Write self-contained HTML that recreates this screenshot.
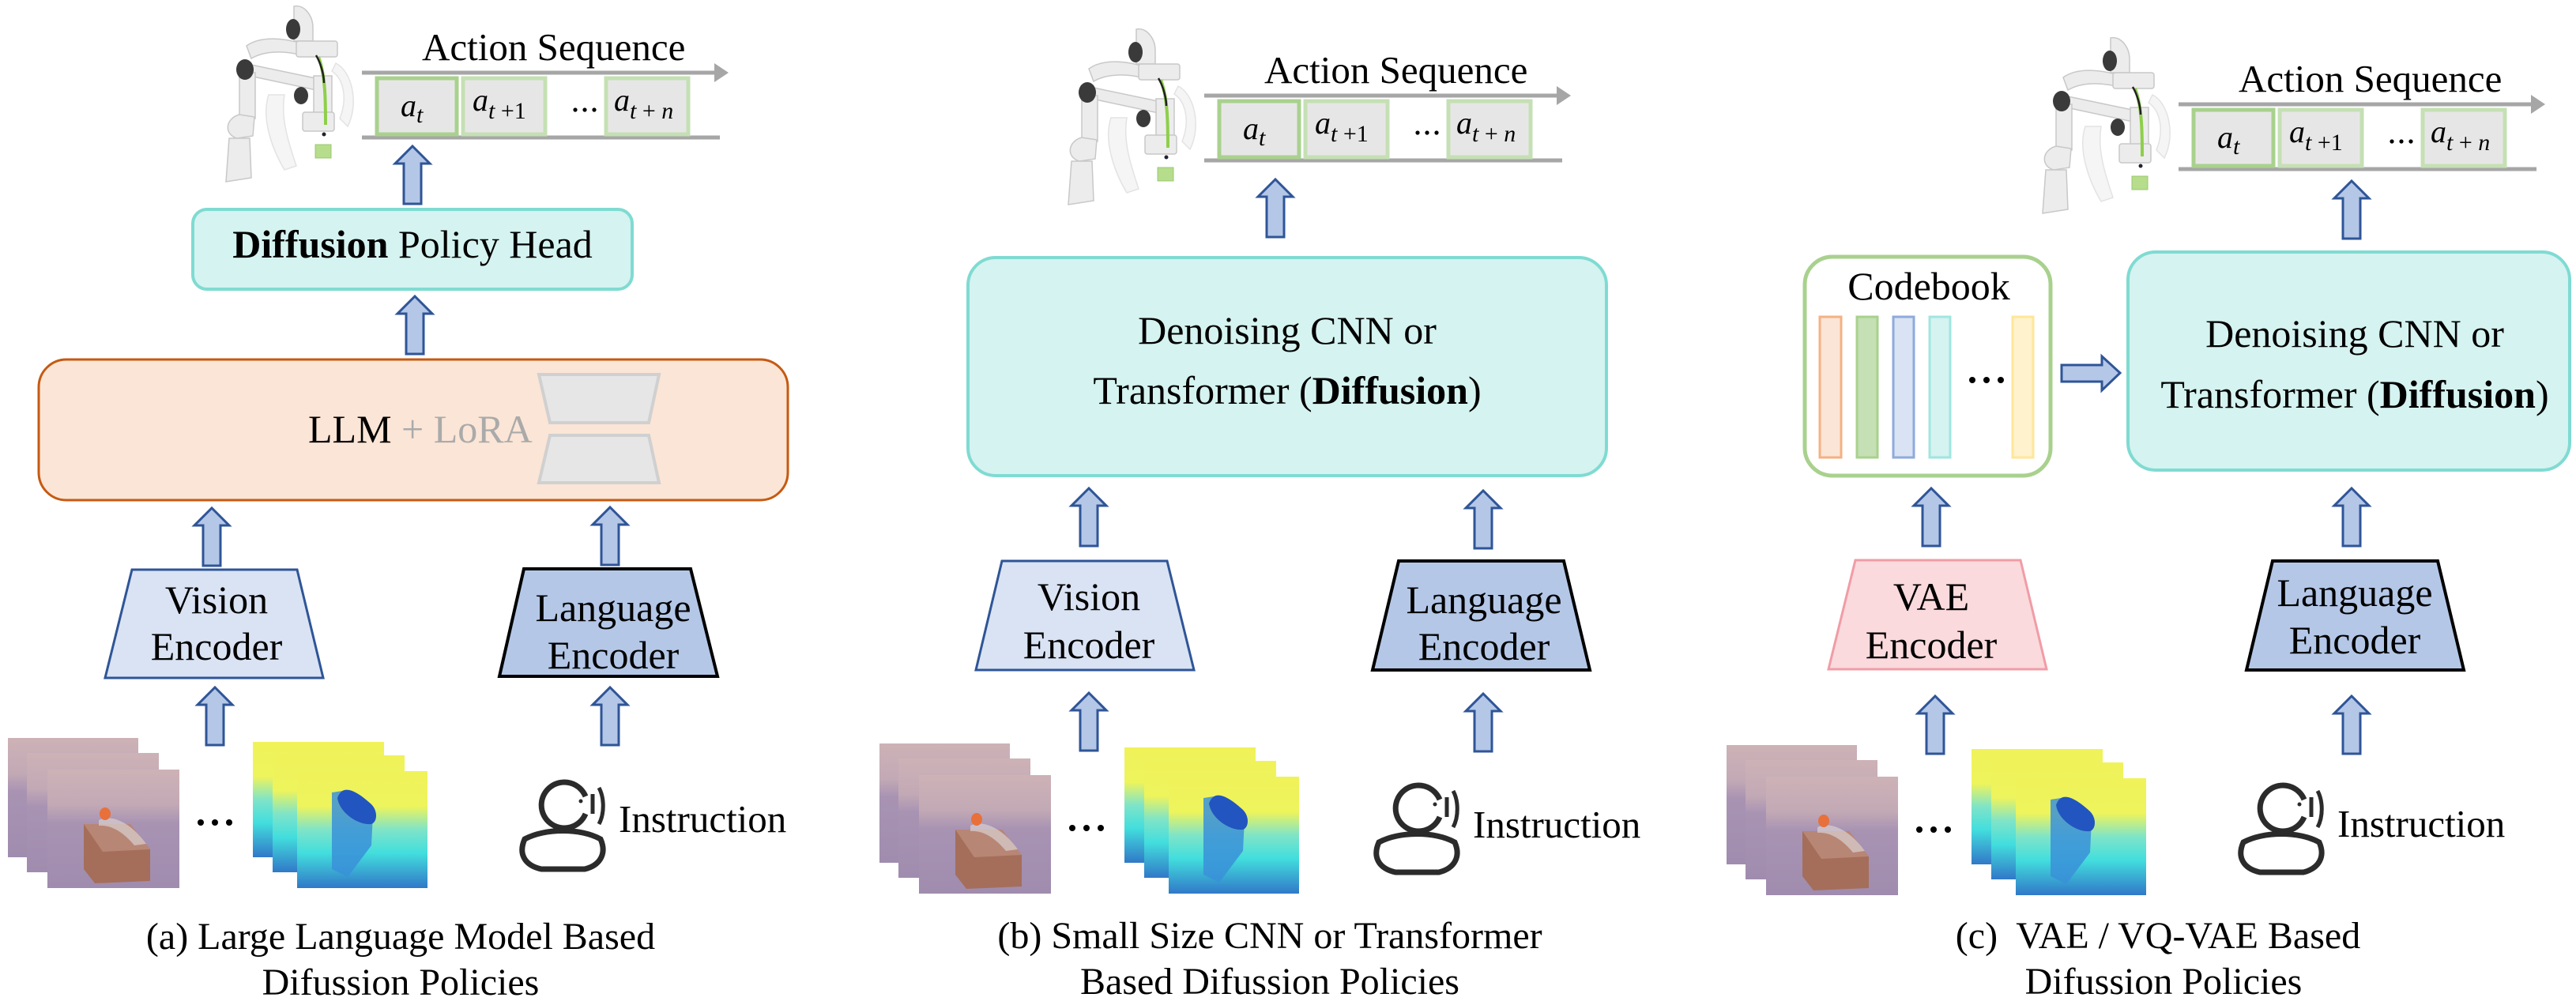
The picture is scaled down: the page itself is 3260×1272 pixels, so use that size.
<!DOCTYPE html>
<html><head><meta charset="utf-8"><style>
html,body{margin:0;padding:0;background:#fff;}
svg{display:block;}
text{font-family:"Liberation Serif",serif;}
</style></head><body>
<svg width="3260" height="1272" viewBox="0 0 3260 1272" xmlns="http://www.w3.org/2000/svg">
<defs>
<linearGradient id="rgbg" x1="0" y1="0" x2="0" y2="1">
<stop offset="0" stop-color="#cdb2b6"/><stop offset="0.3" stop-color="#c2a9b5"/><stop offset="0.45" stop-color="#a893b3"/><stop offset="1" stop-color="#a08cae"/></linearGradient>
<linearGradient id="depg" x1="0" y1="0" x2="0" y2="1">
<stop offset="0" stop-color="#f0f25a"/><stop offset="0.3" stop-color="#eef45c"/><stop offset="0.5" stop-color="#7fe4c8"/><stop offset="0.7" stop-color="#42dedd"/><stop offset="1" stop-color="#3178c8"/></linearGradient>
<g id="arrowU"><polygon points="-11,73 -11,22 -22,22 0,0 22,22 11,22 11,73" fill="#b4c7e7" stroke="#2f5597" stroke-width="3" stroke-linejoin="miter"/></g>
<g id="robot">
 <g fill="#ececec" stroke="#c8c8c8" stroke-width="1.5">
  <path d="M340,120 C330,150 345,190 360,215 L375,210 C365,180 355,150 360,120 Z" opacity="0.5"/>
  <path d="M425,80 C445,90 455,130 440,160 L430,150 C440,125 435,100 420,90 Z" opacity="0.5"/>
  <path d="M372,8 C385,5 396,20 396,35 L396,52 L372,52 Z"/>
  <path d="M312,58 C330,45 360,48 385,56 L382,70 C360,64 335,64 318,74 Z"/>
  <rect x="375" y="52" width="52" height="20" rx="3"/>
  <path d="M318,82 L404,100 L400,114 L316,96 Z"/>
  <rect x="397" y="96" width="23" height="52"/>
  <rect x="303" y="92" width="20" height="58"/>
  <path d="M303,145 C285,150 283,170 300,175 L320,172 L322,148 Z"/>
  <path d="M290,175 L316,175 L318,225 L286,230 Z"/>
  <rect x="383" y="142" width="40" height="24" rx="3"/>
 </g>
 <ellipse cx="371" cy="37" rx="9" ry="13" fill="#3a3a3a"/>
 <ellipse cx="310" cy="88" rx="11" ry="13" fill="#3a3a3a"/>
 <ellipse cx="381" cy="121" rx="9" ry="11" fill="#3a3a3a"/>
 <path d="M403,72 C412,95 412,130 412,158" stroke="#8ecf4a" stroke-width="4" fill="none"/>
 <path d="M400,70 C406,80 410,95 410,105" stroke="#222" stroke-width="2.5" fill="none"/>
 <rect x="399" y="183" width="20" height="17" fill="#b5dd8c" stroke="#9cc870"/>
 <circle cx="410" cy="170" r="2.5" fill="#223"/>
</g>
<g id="action">
 <line x1="458" y1="92" x2="906" y2="92" stroke="#a6a6a6" stroke-width="5"/>
 <polygon points="904,80 922,92 904,104" fill="#a6a6a6"/>
 <line x1="458" y1="174" x2="911" y2="174" stroke="#a6a6a6" stroke-width="5"/>
 <rect x="477" y="99" width="101" height="71" fill="#e7e6e6" stroke="#a9d18e" stroke-width="5"/>
 <rect x="586" y="99" width="104" height="71" fill="#e7e6e6" stroke="#c5e0b4" stroke-width="5"/>
 <rect x="767" y="99" width="104" height="71" fill="#e7e6e6" stroke="#c5e0b4" stroke-width="5"/>
 <text x="507" y="147" font-size="40" font-style="italic">a<tspan font-size="30" dy="8">t</tspan></text>
 <text x="598" y="140" font-size="40" font-style="italic">a<tspan font-size="30" dy="10">t</tspan><tspan font-size="30" font-style="normal"> +1</tspan></text>
 <text x="777" y="140" font-size="40" font-style="italic">a<tspan font-size="30" dy="10">t</tspan><tspan font-size="30" font-style="normal"> + </tspan><tspan font-size="30">n</tspan></text>
 <circle cx="728" cy="139" r="2.6" fill="#000"/><circle cx="740" cy="139" r="2.6" fill="#000"/><circle cx="752" cy="139" r="2.6" fill="#000"/>
 <text x="534" y="76" font-size="49">Action Sequence</text>
 <use href="#robot"/>
</g>
<g id="rgbstack">
 <rect x="10" y="934" width="165" height="151" fill="url(#rgbg)"/>
 <rect x="34" y="953" width="167" height="151" fill="url(#rgbg)"/>
 <rect x="60" y="974" width="167" height="150" fill="url(#rgbg)"/>
 <path d="M106,1043 L165,1043 L190,1075 L190,1115 L120,1118 L106,1100 Z" fill="#a56e5a"/>
 <path d="M106,1043 L165,1043 L190,1075 L130,1078 Z" fill="#c09080" opacity="0.7"/>
 <path d="M125,1038 C140,1030 165,1040 185,1068 L170,1070 C155,1052 140,1044 125,1045 Z" fill="#d8d0d0" opacity="0.7"/>
 <ellipse cx="133" cy="1030" rx="7" ry="8" fill="#e8703a"/>
 <circle cx="254" cy="1041" r="4" fill="#000"/><circle cx="272" cy="1041" r="4" fill="#000"/><circle cx="290" cy="1041" r="4" fill="#000"/>
 <rect x="320" y="939" width="166" height="146" fill="url(#depg)"/>
 <rect x="345" y="956" width="167" height="148" fill="url(#depg)"/>
 <rect x="376" y="976" width="165" height="148" fill="url(#depg)"/>
 <path d="M420,1003 L440,1000 L472,1030 L470,1070 L440,1110 L420,1100 Z" fill="#3a90d8" opacity="0.85"/>
 <path d="M427,1010 C432,995 445,995 470,1018 C478,1026 478,1040 470,1043 C455,1045 430,1030 427,1010 Z" fill="#2255c0"/>
</g>
<g id="instr">
 <path d="M741,1008 A29,29 0 1 0 741,1030" fill="none" stroke="#2b2b2b" stroke-width="7"/>
 <circle cx="735" cy="1014" r="2.5" fill="#2b2b2b"/>
 <line x1="750" y1="1005" x2="750" y2="1030" stroke="#2b2b2b" stroke-width="5"/>
 <path d="M758,997 C765,1010 765,1030 758,1043" fill="none" stroke="#2b2b2b" stroke-width="5"/>
 <path d="M664,1062 C690,1048 735,1048 760,1062 C768,1080 760,1095 740,1100 L685,1100 C663,1095 656,1080 664,1062 Z" fill="none" stroke="#2b2b2b" stroke-width="7"/>
</g>
</defs>

<!-- ===== Panel A ===== -->
<use href="#action"/>
<use href="#arrowU" x="522" y="185"/>
<rect x="244" y="265" width="556" height="101" rx="18" fill="#d5f3f0" stroke="#7fdbd2" stroke-width="4"/>
<text x="522" y="326" font-size="50" text-anchor="middle"><tspan font-weight="bold">Diffusion</tspan> Policy Head</text>
<use href="#arrowU" x="525" y="375"/>
<rect x="49" y="455" width="948" height="178" rx="35" fill="#fbe5d6" stroke="#c55a11" stroke-width="3"/>
<polygon points="682,474 834,474 821,535 696,535" fill="#e6e6e6" stroke="#d0d0d0" stroke-width="4"/>
<polygon points="696,551 821,551 834,611 682,611" fill="#e6e6e6" stroke="#d0d0d0" stroke-width="4"/>
<text x="390" y="560" font-size="50">LLM<tspan fill="#aaaaaa"> + LoRA</tspan></text>
<use href="#arrowU" x="268" y="643"/>
<use href="#arrowU" x="772" y="642"/>
<polygon points="167,721 376,721 409,858 133,858" fill="#dae3f3" stroke="#2f5597" stroke-width="3"/>
<text x="274" y="776" font-size="50" text-anchor="middle">Vision</text>
<text x="274" y="835" font-size="50" text-anchor="middle">Encoder</text>
<polygon points="663,720 874,720 908,856 632,856" fill="#b4c7e7" stroke="#000" stroke-width="4"/>
<text x="776" y="786" font-size="50" text-anchor="middle">Language</text>
<text x="776" y="846" font-size="50" text-anchor="middle">Encoder</text>
<use href="#arrowU" x="272" y="870"/>
<use href="#arrowU" x="772" y="870"/>
<use href="#rgbstack"/>
<use href="#instr"/>
<text x="783" y="1053" font-size="49">Instruction</text>
<text x="507" y="1201" font-size="48" text-anchor="middle">(a) Large Language Model Based</text>
<text x="507" y="1259" font-size="48" text-anchor="middle">Difussion Policies</text>

<!-- ===== Panel B ===== -->
<use href="#action" x="1066" y="29"/>
<use href="#arrowU" x="1614" y="227"/>
<rect x="1225" y="326" width="808" height="276" rx="35" fill="#d5f3f0" stroke="#7fdbd2" stroke-width="4"/>
<text x="1629" y="435" font-size="50" text-anchor="middle">Denoising CNN or</text>
<text x="1629" y="511" font-size="50" text-anchor="middle">Transformer (<tspan font-weight="bold">Diffusion</tspan>)</text>
<use href="#arrowU" x="1378" y="618"/>
<use href="#arrowU" x="1877" y="621"/>
<polygon points="1268,710 1477,710 1511,848 1235,848" fill="#dae3f3" stroke="#2f5597" stroke-width="3"/>
<text x="1378" y="772" font-size="50" text-anchor="middle">Vision</text>
<text x="1378" y="833" font-size="50" text-anchor="middle">Encoder</text>
<polygon points="1770,710 1979,710 2012,848 1737,848" fill="#b4c7e7" stroke="#000" stroke-width="4"/>
<text x="1878" y="776" font-size="50" text-anchor="middle">Language</text>
<text x="1878" y="835" font-size="50" text-anchor="middle">Encoder</text>
<use href="#arrowU" x="1378" y="877"/>
<use href="#arrowU" x="1877" y="878"/>
<use href="#rgbstack" x="1103" y="7"/>
<use href="#instr" x="1081" y="4"/>
<text x="1864" y="1060" font-size="49">Instruction</text>
<text x="1607" y="1200" font-size="48" text-anchor="middle">(b) Small Size CNN or Transformer</text>
<text x="1607" y="1258" font-size="48" text-anchor="middle">Based Difussion Policies</text>

<!-- ===== Panel C ===== -->
<use href="#action" x="2299" y="40"/>
<use href="#arrowU" x="2976" y="229"/>
<rect x="2284" y="325" width="311" height="277" rx="35" fill="#fff" stroke="#a9d18e" stroke-width="5"/>
<text x="2441" y="379" font-size="50" text-anchor="middle">Codebook</text>
<rect x="2303" y="401" width="27" height="178" fill="#fbe5d6" stroke="#f4b183" stroke-width="3"/>
<rect x="2350" y="401" width="26" height="178" fill="#c5e0b4" stroke="#a9d18e" stroke-width="3"/>
<rect x="2396" y="401" width="26" height="178" fill="#dae3f3" stroke="#8faadc" stroke-width="3"/>
<rect x="2442" y="401" width="26" height="178" fill="#d5f3f0" stroke="#a0e6e0" stroke-width="3"/>
<rect x="2547" y="401" width="26" height="178" fill="#fff2cc" stroke="#ffe699" stroke-width="3"/>
<circle cx="2496" cy="481" r="4" fill="#000"/><circle cx="2514" cy="481" r="4" fill="#000"/><circle cx="2532" cy="481" r="4" fill="#000"/>
<polygon points="2609,462 2660,462 2660,451 2683,472 2660,494 2660,483 2609,483" fill="#b4c7e7" stroke="#2f5597" stroke-width="3"/>
<rect x="2693" y="319" width="559" height="276" rx="35" fill="#d5f3f0" stroke="#7fdbd2" stroke-width="4"/>
<text x="2980" y="439" font-size="50" text-anchor="middle">Denoising CNN or</text>
<text x="2980" y="516" font-size="50" text-anchor="middle">Transformer (<tspan font-weight="bold">Diffusion</tspan>)</text>
<use href="#arrowU" x="2444" y="618"/>
<use href="#arrowU" x="2976" y="618"/>
<polygon points="2348,709 2557,709 2590,847 2314,847" fill="#fadadd" stroke="#f19ca6" stroke-width="3"/>
<text x="2444" y="772" font-size="50" text-anchor="middle">VAE</text>
<text x="2444" y="833" font-size="50" text-anchor="middle">Encoder</text>
<polygon points="2876,710 3085,710 3118,848 2843,848" fill="#b4c7e7" stroke="#000" stroke-width="4"/>
<text x="2980" y="767" font-size="50" text-anchor="middle">Language</text>
<text x="2980" y="827" font-size="50" text-anchor="middle">Encoder</text>
<use href="#arrowU" x="2449" y="881"/>
<use href="#arrowU" x="2976" y="881"/>
<use href="#rgbstack" x="2175" y="9"/>
<use href="#instr" x="2175" y="4"/>
<text x="2958" y="1059" font-size="49">Instruction</text>
<text x="2731" y="1200" font-size="48" text-anchor="middle" xml:space="preserve">(c)  VAE / VQ-VAE Based</text>
<text x="2738" y="1258" font-size="48" text-anchor="middle">Difussion Policies</text>
</svg>
</body></html>
